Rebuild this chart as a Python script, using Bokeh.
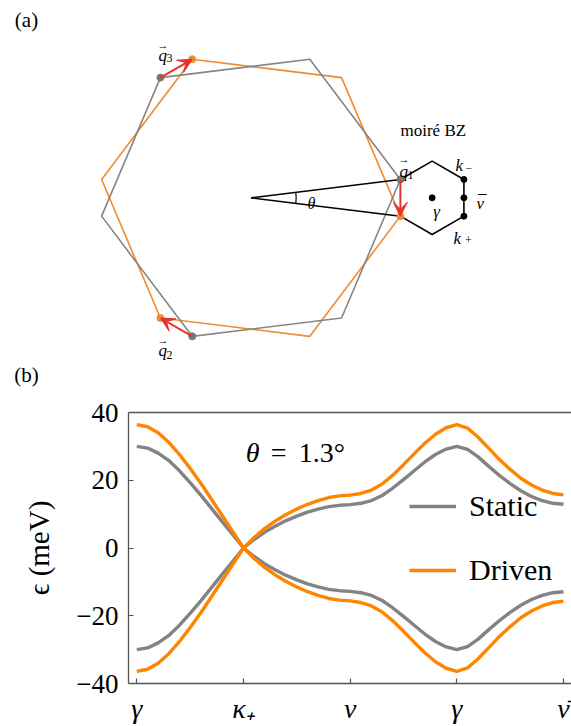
import numpy as np
from bokeh.plotting import figure
from bokeh.layouts import column
from bokeh.models import (Range1d, Arrow, VeeHead, Legend, LegendItem,
                          FixedTicker, LinearAxis)
from bokeh.core.properties import value
from bokeh.embed import file_html
from bokeh.resources import INLINE

FONT = "Liberation Serif"

# ---------------- data: panel (a) schematic ----------------
twist_half_deg = 7.0                     # half of the (exaggerated) drawn twist
hex_corner_deg = [0, 60, 120, 180, 240, 300]
q_corner_deg = [0, 120, 240]             # corners joined by q1, q3, q2
bz_corner_deg = [150, 90, 30, -30, -90, -150]

# ---------------- data: panel (b) bands ----------------
path_ticks = [0, 1, 2, 3, 4]
path_labels = ["γ", "κ₊", "ν", "γ", "ν\u0304"]
y_ticks = [-40, -20, 0, 20, 40]
k_path = [i / 10 for i in range(41)]

static_upper = [30.0, 29.5, 28.0, 25.8, 22.8, 19.3, 15.6, 11.7, 7.8, 3.9, 0.0,
                2.5, 4.7, 6.5, 8.1, 9.4, 10.6, 11.5, 12.2, 12.6, 12.8,
                13.2, 14.0, 15.5, 17.7, 20.2, 22.8, 25.4, 27.6, 29.2, 30.0,
                29.1, 26.9, 24.1, 21.4, 19.0, 16.9, 15.2, 14.0, 13.2, 12.9]
static_lower = [-30.0, -29.5, -28.0, -25.8, -22.8, -19.3, -15.6, -11.7, -7.8, -3.9, 0.0,
                -2.5, -4.7, -6.5, -8.1, -9.4, -10.6, -11.5, -12.2, -12.6, -12.8,
                -13.2, -14.0, -15.5, -17.7, -20.2, -22.8, -25.4, -27.6, -29.2, -30.0,
                -29.1, -26.9, -24.1, -21.4, -19.0, -16.9, -15.2, -14.0, -13.2, -12.9]
driven_upper = [36.4, 35.8, 34.0, 31.2, 27.6, 23.5, 19.1, 14.4, 9.6, 4.8, 0.0,
                3.1, 5.8, 8.0, 9.9, 11.5, 12.9, 14.0, 14.9, 15.4, 15.6,
                16.1, 17.1, 18.9, 21.5, 24.6, 27.8, 30.9, 33.6, 35.5, 36.4,
                35.4, 32.7, 29.4, 26.1, 23.2, 20.6, 18.6, 17.1, 16.1, 15.7]
driven_lower = [-36.4, -35.8, -34.0, -31.2, -27.6, -23.5, -19.1, -14.4, -9.6, -4.8, 0.0,
                -3.1, -5.8, -8.0, -9.9, -11.5, -12.9, -14.0, -14.9, -15.4, -15.6,
                -16.1, -17.1, -18.9, -21.5, -24.6, -27.8, -30.9, -33.6, -35.5, -36.4,
                -35.4, -32.7, -29.4, -26.1, -23.2, -20.6, -18.6, -17.1, -16.1, -15.7]

# ---------------- styles ----------------
GRAY_A, ORANGE_A, RED = "#858585", "#f28a2e", "#e5322b"
GRAY_B, ORANGE_B, AX = "#838383", "#ff8400", "#555555"

W, HA, HB = 571, 396, 330

# ================= panel (a) =================
S = 150.5                 # pixels per unit radius
cxp, cyp = 250.5, 197.3   # centre of the big hexagons in figure pixels
pa = figure(width=W, height=HA, x_range=Range1d(-cxp / S, (W - cxp) / S),
            y_range=Range1d(-(HA - cyp) / S, cyp / S),
            x_axis_location=None, y_axis_location=None, min_border=0,
            output_backend="svg", toolbar_location=None)
pa.grid.visible = False
pa.outline_line_color = None
pa.frame_align = False


def P(px, py):
    """pixel position in panel (a) -> data coordinates (for text placement)"""
    return (px - cxp) / S, (cyp - py) / S


h = np.radians(twist_half_deg)
ang = np.radians(hex_corner_deg)
gx, gy = np.cos(ang + h), np.sin(ang + h)
ox, oy = np.cos(ang - h), np.sin(ang - h)
pa.patch(ox, oy, fill_color=None, line_color=ORANGE_A, line_width=1.6)
pa.patch(gx, gy, fill_color=None, line_color=GRAY_A, line_width=1.6)

# lines to q1 and angle arc
pa.segment(x0=[0, 0], y0=[0, 0], x1=[gx[0], ox[0]], y1=[gy[0], oy[0]],
           line_color="black", line_width=1.5)
pa.arc(x=0, y=0, radius=0.3, start_angle=-h, end_angle=h,
       line_color="black", line_width=1.2)

# moiré BZ
s = 2 * np.sin(h)
bcx = np.cos(h) + s * np.sqrt(3) / 2
bzr = np.radians(bz_corner_deg)
bx, by = bcx + s * np.cos(bzr), s * np.sin(bzr)
pa.line(bx, by, line_color="black", line_width=1.6)
pa.scatter([bcx, bx[2], bx[2], bx[3]], [0, by[2], 0, by[3]], size=6,
           color="black")

# q arrows
qa = np.radians(q_corner_deg)
sx0, sy0 = np.cos(qa + h), np.sin(qa + h)
ex0, ey0 = np.cos(qa - h), np.sin(qa - h)
pa.scatter(sx0, sy0, size=7, color="#777777")
pa.scatter(ex0, ey0, size=7, color=ORANGE_A)
for a, b, c, d in zip(sx0, sy0, ex0, ey0):
    pa.add_layout(Arrow(end=VeeHead(size=14, fill_color=RED, line_color=RED,
                                    line_width=1),
                        x_start=a, y_start=b, x_end=c, y_end=d,
                        line_color=RED, line_width=2))


def txt(fig, pos, t, size, style="normal", align="left", base="alphabetic"):
    x, y = pos
    fig.text(x=[x], y=[y], text=[t], text_font=value(FONT),
             text_font_size=size, text_font_style=style, text_align=align,
             text_baseline=base, text_color="black")


def vec_q(left, base, sub, sub_base, arrow_y):
    txt(pa, P(left, base), "q", "17px", "italic")
    txt(pa, P(left + 4.5, arrow_y), "\u2192", "11px", align="center",
        base="middle")
    txt(pa, P(left + 8, sub_base), sub, "12px")


txt(pa, P(26, 19), "(a)", "21px", align="center", base="middle")
txt(pa, P(26, 374), "(b)", "21px", align="center", base="middle")
vec_q(399, 171, "1", 174, 158.5)
vec_q(158, 54.5, "3", 57, 44)
vec_q(158, 350, "2", 354, 339.5)
txt(pa, P(455, 165), "k", "17px", "italic")
txt(pa, P(465, 167), "\u2212", "12px")
txt(pa, P(453, 238), "k", "17px", "italic")
txt(pa, P(464.5, 239.5), "+", "12px")
txt(pa, P(476, 203), "ν", "17px", "italic")
txt(pa, P(477.5, 201), "\u00af", "17px")
txt(pa, P(436, 211), "γ", "17px", "italic", align="center")
txt(pa, P(400, 130), "moiré BZ", "17px")
txt(pa, P(307, 202.5), "θ", "16px", "italic")

# ================= panel (b) =================
pb = figure(width=W, height=HB, x_range=Range1d(-0.078, 4.075),
            y_range=Range1d(-40, 40), min_border_left=128, min_border_right=0,
            min_border_top=16, min_border_bottom=39,
            output_backend="svg", toolbar_location=None)
pb.grid.visible = False
pb.outline_line_color = None
pb.frame_align = False

for ax in (pb.xaxis[0], pb.yaxis[0]):
    ax.axis_line_color = AX
    ax.axis_line_width = 1.3
    ax.major_tick_line_color = AX
    ax.major_tick_line_width = 1.2
    ax.major_tick_in = 5
    ax.major_tick_out = 0
    ax.minor_tick_line_color = None
    ax.major_label_text_font = FONT
    ax.major_label_text_color = "black"

pb.xaxis.ticker = FixedTicker(ticks=path_ticks)
pb.xaxis.major_label_overrides = {t: l for t, l in zip(path_ticks, path_labels)}
pb.xaxis.major_label_text_font_style = "italic"
pb.xaxis.major_label_text_font_size = "28px"
pb.xaxis.major_label_standoff = 9

pb.yaxis.ticker = FixedTicker(ticks=y_ticks)
pb.yaxis.major_label_overrides = {t: str(t).replace("-", "\u2212") for t in y_ticks}
pb.yaxis.major_label_text_font_size = "27px"
pb.yaxis.major_label_standoff = 10
pb.yaxis.axis_label = "\u03f5 (meV)"
pb.yaxis.axis_label_text_font = FONT
pb.yaxis.axis_label_text_font_size = "29px"
pb.yaxis.axis_label_text_font_style = "normal"
pb.yaxis.axis_label_text_color = "black"
pb.yaxis.axis_label_standoff = 18

top = LinearAxis(ticker=FixedTicker(ticks=[]), axis_line_color=AX,
                 axis_line_width=1.3, major_tick_line_color=None,
                 major_tick_in=0, major_tick_out=0, major_label_standoff=0,
                 minor_tick_line_color=None, major_label_text_font_size="0px")
pb.add_layout(top, "above")

r_s1 = pb.line(k_path, static_upper, line_color=GRAY_B, line_width=3.4)
pb.line(k_path, static_lower, line_color=GRAY_B, line_width=3.4)
r_d1 = pb.line(k_path, driven_upper, line_color=ORANGE_B, line_width=3.4)
pb.line(k_path, driven_lower, line_color=ORANGE_B, line_width=3.4)

legend = Legend(items=[LegendItem(label="Static", renderers=[r_s1]),
                       LegendItem(label="Driven", renderers=[r_d1])],
                location=(281, 96), glyph_width=47, glyph_height=30,
                label_height=30, label_standoff=13, spacing=30, padding=0,
                margin=0, border_line_color=None, background_fill_alpha=0,
                label_text_font=FONT, label_text_font_size="30px",
                label_text_color="black")
pb.add_layout(legend)

for t, dx, style in (("θ", 0, "italic"), ("=", 25, "normal"), ("1.3°", 53, "normal")):
    pb.text(x=[1.021], y=[28.1], text=[t], text_font=value(FONT),
            text_font_size="28px", text_font_style=style, text_align="left",
            text_baseline="alphabetic", x_offset=dx, text_color="black")

layout = column(pa, pb, spacing=0)
open("out.html", "w").write(file_html(layout, INLINE))
